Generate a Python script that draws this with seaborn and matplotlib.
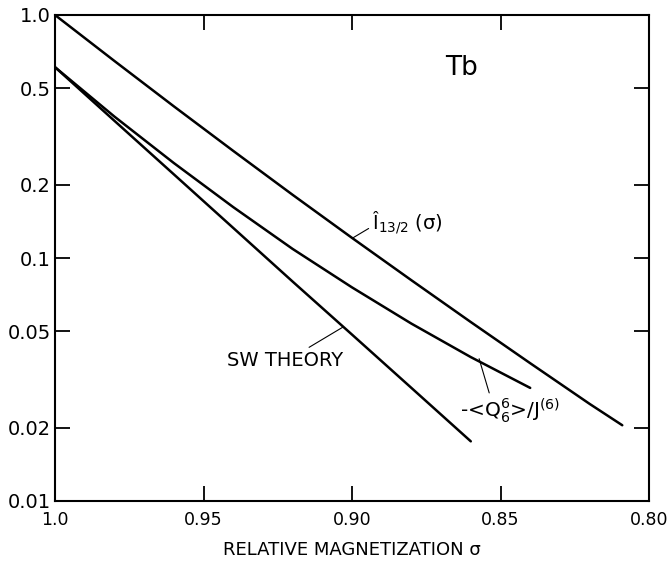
import numpy as np
import pandas as pd
import matplotlib
matplotlib.use("Agg")
import matplotlib.pyplot as plt
import seaborn as sns

# values (sigma, value)
sigma_I = [1.0, 0.98, 0.96, 0.94, 0.92, 0.90, 0.88, 0.86, 0.84, 0.82, 0.809]
val_I = [1.0, 0.647, 0.421, 0.276, 0.182, 0.121, 0.081, 0.0545, 0.0369, 0.0251, 0.0205]

sigma_Q = [1.0, 0.98, 0.96, 0.94, 0.92, 0.90, 0.88, 0.86, 0.84]
val_Q = [0.61, 0.382, 0.246, 0.162, 0.109, 0.0757, 0.0537, 0.0391, 0.0292]

sigma_SW = [1.0, 0.98, 0.96, 0.94, 0.92, 0.90, 0.88, 0.86]
val_SW = [0.61, 0.367, 0.221, 0.133, 0.080, 0.0484, 0.0292, 0.0176]

xticks = [1.0, 0.95, 0.90, 0.85, 0.80]
xtick_labels = ["1.0", "0.95", "0.90", "0.85", "0.80"]
yticks = [0.01, 0.02, 0.05, 0.1, 0.2, 0.5, 1.0]
ytick_labels = ["0.01", "0.02", "0.05", "0.1", "0.2", "0.5", "1.0"]

sns.set_style("ticks")
plt.rcParams["font.family"] = ["DejaVu Sans"]
plt.rcParams["mathtext.fontset"] = "dejavusans"
plt.rcParams["text.color"] = "black"
plt.rcParams["axes.labelcolor"] = "black"

fig = plt.figure(figsize=(6.69, 5.64), dpi=100)
ax = fig.add_axes([55 / 669, 1 - 501 / 564, 594 / 669, 486 / 564])

curves = [(sigma_I, val_I), (sigma_Q, val_Q), (sigma_SW, val_SW)]
for s, v in curves:
    df = pd.DataFrame({"sigma": s, "value": v})
    sns.lineplot(data=df, x="sigma", y="value", color="black", lw=1.8, ax=ax)

ax.set_yscale("log")
ax.set_xlim(1.0, 0.80)
ax.set_ylim(0.01, 1.0)
ax.set_xticks(xticks)
ax.set_xticklabels(xtick_labels)
ax.set_yticks(yticks)
ax.set_yticklabels(ytick_labels)
ax.minorticks_off()
ax.tick_params(direction="in", length=11, width=1.3, top=True, right=True,
               colors="black")
ax.tick_params(axis="x", pad=7, labelsize=12.5)
ax.tick_params(axis="y", pad=3, labelsize=14)
for sp in ax.spines.values():
    sp.set_linewidth(1.5)
    sp.set_color("black")

ax.set_xlabel("RELATIVE MAGNETIZATION σ", fontsize=13, labelpad=9)
ax.set_ylabel("")

ax.text(0.685, 0.891, "Tb", transform=ax.transAxes, fontsize=19,
        ha="center", va="center")

line_kw = dict(arrowstyle="-", lw=0.8, color="black", shrinkA=0, shrinkB=0)
ax.annotate("Î$_{13/2}$ (σ)", xy=(0.8997, 0.121),
            xytext=(0.8933, 0.140), fontsize=14, ha="left", va="center",
            arrowprops=dict(relpos=(0, 0.35), **line_kw))
ax.annotate("-<Q$_6^6$>/J$^{(6)}$", xy=(0.8572, 0.0385),
            xytext=(0.8636, 0.027), fontsize=14.5, ha="left", va="top",
            arrowprops=dict(relpos=(0.3, 1), **line_kw))
ax.annotate("SW THEORY", xy=(0.903, 0.052),
            xytext=(0.9421, 0.038), fontsize=14, ha="left", va="center",
            arrowprops=dict(relpos=(0.66, 1), **line_kw))

fig.savefig("out.png", dpi=100)
